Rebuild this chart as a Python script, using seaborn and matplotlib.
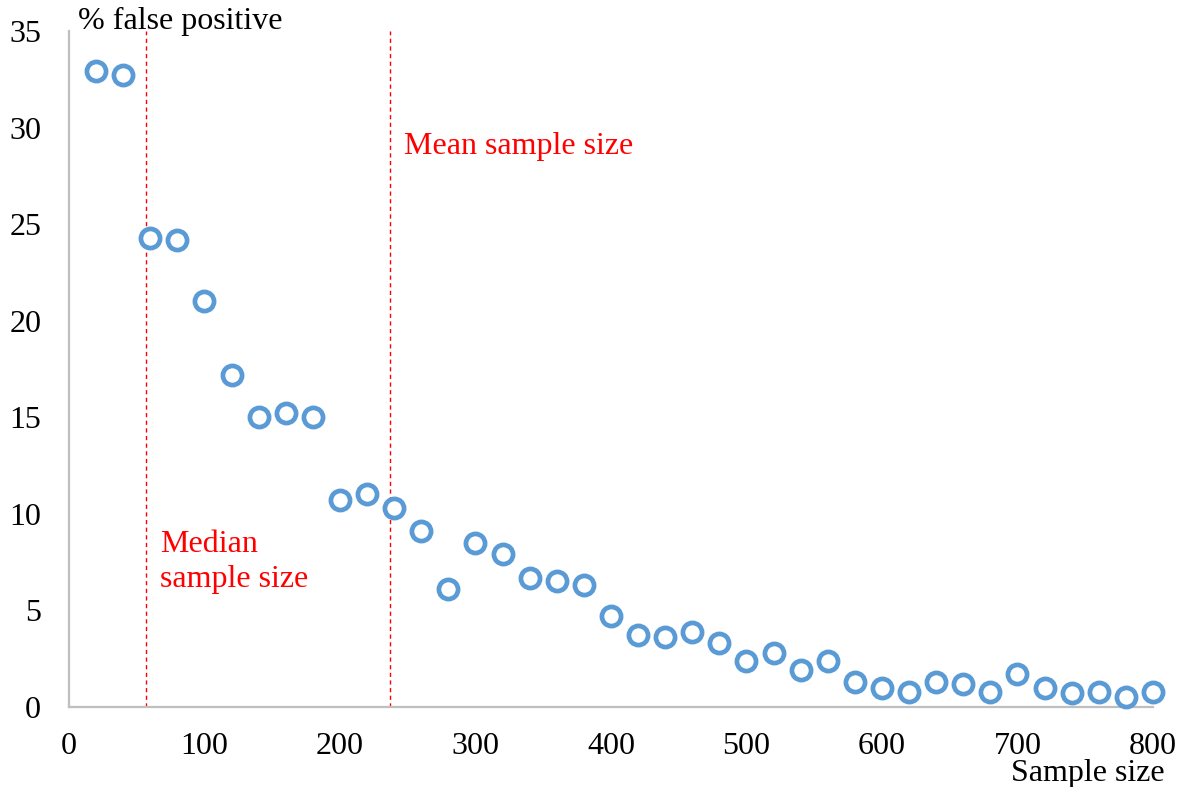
import pandas as pd
import numpy as np
import matplotlib.pyplot as plt
import seaborn as sns

sample_size = [20, 40, 60, 80, 100, 120, 140, 160, 180, 200,
               220, 240, 260, 280, 300, 320, 340, 360, 380, 400,
               420, 440, 460, 480, 500, 520, 540, 560, 580, 600,
               620, 640, 660, 680, 700, 720, 740, 760, 780, 800]
false_positive = [32.9, 32.7, 24.3, 24.2, 21.0, 17.2, 15.0, 15.2, 15.0, 10.7,
                  11.0, 10.3, 9.1, 6.1, 8.5, 7.9, 6.7, 6.5, 6.3, 4.7,
                  3.7, 3.6, 3.9, 3.3, 2.4, 2.8, 1.9, 2.4, 1.3, 1.0,
                  0.8, 1.3, 1.2, 0.8, 1.7, 1.0, 0.7, 0.8, 0.5, 0.8]
median_size = 57
mean_size = 237
x_ticks = [0, 100, 200, 300, 400, 500, 600, 700, 800]
y_ticks = [0, 5, 10, 15, 20, 25, 30, 35]

df = pd.DataFrame({"sample_size": sample_size, "false_positive": false_positive})

sns.set_style("white")
plt.rcParams["font.family"] = ["Liberation Serif", "DejaVu Serif"]
plt.rcParams["text.color"] = "black"
plt.rcParams["xtick.color"] = "black"
plt.rcParams["ytick.color"] = "black"

fig = plt.figure(figsize=(11.88, 7.87), dpi=100)
ax = fig.add_axes([0.058, 0.1017, 0.9125, 0.859])

sns.scatterplot(data=df, x="sample_size", y="false_positive", ax=ax,
                marker="o", s=190, facecolor="white", edgecolor="#5B9BD5",
                linewidth=3.4, zorder=3, clip_on=False)

ax.axvline(median_size, color="red", linestyle=(0, (3, 2.5)), linewidth=1.0, zorder=2)
ax.axvline(mean_size, color="red", linestyle=(0, (3, 2.5)), linewidth=1.0, zorder=2)

ax.set_xlim(0, 800)
ax.set_ylim(0, 35)
ax.set_xticks(x_ticks)
ax.set_yticks(y_ticks)
ax.tick_params(axis="both", length=0, labelsize=23)
ax.tick_params(axis="y", pad=20)
ax.tick_params(axis="x", pad=18)
ax.set_xlabel("")
ax.set_ylabel("")

for side in ["top", "right"]:
    ax.spines[side].set_visible(False)
for side in ["left", "bottom"]:
    ax.spines[side].set_color("#BFBFBF")
    ax.spines[side].set_linewidth(1.6)

fig.text(78 / 1188, 1 - 21 / 787, "% false positive", fontsize=23, va="center", ha="left")
fig.text(1165 / 1188, 1 - 773 / 787, "Sample size", fontsize=23, va="center", ha="right")
ax.text(mean_size + 10, 29.0, "Mean sample size", color="red", fontsize=23, va="center")
ax.text(median_size + 10, 7.5, "Median\nsample size", color="red", fontsize=23,
        va="center", linespacing=1.3)

plt.savefig("out.png", dpi=100)
